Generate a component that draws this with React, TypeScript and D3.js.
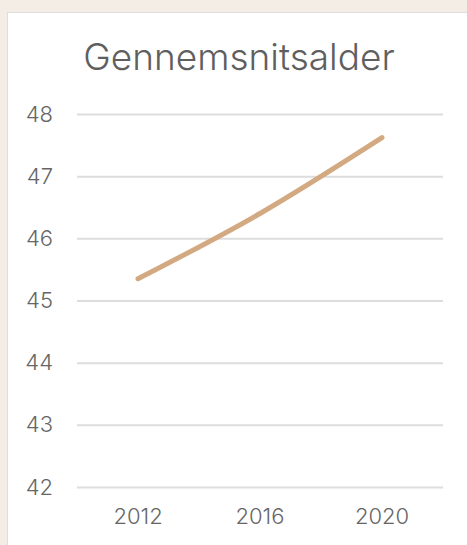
import { useEffect, useRef } from 'react';
import * as d3 from 'd3';

const years = ['2012', '2016', '2020'];
const avgAge = [45.35, 46.4, 47.62];
const yTicks = [42, 43, 44, 45, 46, 47, 48];
const title = 'Gennemsnitsalder';

const App = () => {
  const ref = useRef<SVGSVGElement>(null);

  useEffect(() => {
    const svg = d3.select(ref.current);
    svg.selectAll('*').remove();
    const width = 467;
    const height = 545;

    // background + panel
    svg.append('rect').attr('width', width).attr('height', height).attr('fill', '#f4ede6');
    svg.append('rect')
      .attr('x', 7.5).attr('y', 12.5)
      .attr('width', width).attr('height', height)
      .attr('fill', '#fff')
      .attr('stroke', '#dedede');

    const margin = { top: 114, right: 24, bottom: 58, left: 77 };
    const innerWidth = width - margin.left - margin.right;
    const innerHeight = height - margin.top - margin.bottom;

    const xScale = d3.scaleBand().domain(years).range([0, innerWidth]);
    const yScale = d3.scaleLinear().domain([42, 48]).range([innerHeight, 0]);

    const g = svg.append('g').attr('transform', `translate(${margin.left},${margin.top})`);

    const font = 'Inter, "DejaVu Sans", sans-serif';

    // y grid + labels
    const yAxis = d3.axisLeft(yScale).tickValues(yTicks).tickSize(-innerWidth).tickPadding(24).tickFormat(d3.format('d'));
    const yG = g.append('g').call(yAxis);
    yG.select('.domain').remove();
    yG.selectAll('.tick line').attr('stroke', '#dddddd').attr('stroke-width', 2);
    yG.selectAll('.tick text')
      .attr('fill', '#666')
      .style('font-size', '22px')
      .style('font-family', font)
      .style('font-weight', 300);

    // x labels
    const xAxis = d3.axisBottom(xScale).tickSize(0).tickPadding(21);
    const xG = g.append('g').attr('transform', `translate(0,${innerHeight})`).call(xAxis);
    xG.select('.domain').remove();
    xG.selectAll('.tick text')
      .attr('fill', '#666')
      .style('font-size', '22px')
      .style('font-family', font)
      .style('font-weight', 300);

    // line
    const points = years.map((y, i) => [xScale(y)! + xScale.bandwidth() / 2, yScale(avgAge[i])] as [number, number]);
    const line = d3.line().curve(d3.curveMonotoneX);
    g.append('path')
      .attr('d', line(points))
      .attr('fill', 'none')
      .attr('stroke', '#d3a982')
      .attr('stroke-width', 5)
      .attr('stroke-linecap', 'round')
      .attr('stroke-linejoin', 'round');

    // title
    svg.append('text').text(title)
      .attr('x', 239).attr('y', 70)
      .attr('text-anchor', 'middle')
      .attr('fill', '#5f5f5f')
      .style('font-size', '37px')
      .style('font-family', font)
      .style('font-weight', 300);
  }, []);

  return (
    <div>
      <svg ref={ref} width={467} height={545} style={{ position: 'absolute', left: 0, top: 0 }} />
    </div>
  );
};

export default App;
